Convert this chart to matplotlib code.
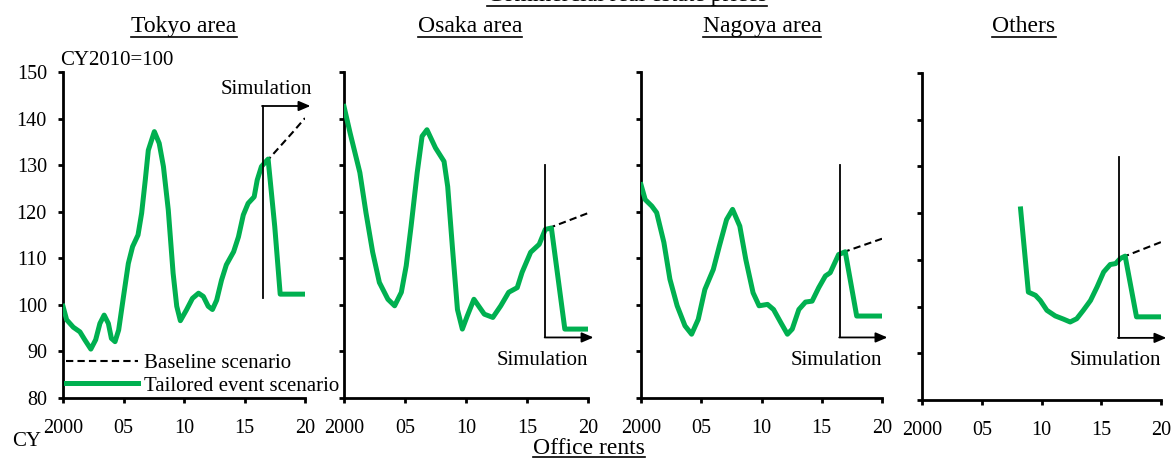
import matplotlib.pyplot as plt
from matplotlib.lines import Line2D
from matplotlib.transforms import IdentityTransform

plt.rcParams['font.family'] = ['Liberation Serif', 'DejaVu Serif']

GREEN = '#00B050'
W, H = 1173, 458

# --- data (CY2010=100) ---
tokyo_x = [2000.0, 2000.3, 2000.85, 2001.4, 2001.8, 2002.3, 2002.7, 2003.05, 2003.4, 2003.75,
           2004.0, 2004.3, 2004.6, 2005.0, 2005.4, 2005.75, 2006.2, 2006.5, 2006.8, 2007.05,
           2007.55, 2007.95, 2008.3, 2008.7, 2009.1, 2009.4, 2009.7, 2010.2, 2010.7, 2011.2,
           2011.6, 2012.0, 2012.35, 2012.7, 2013.1, 2013.5, 2014.1, 2014.5, 2014.9, 2015.3,
           2015.8, 2016.05, 2016.4, 2016.95, 2017.5, 2017.95, 2020.0]
tokyo_y = [99.7, 96.8, 95.2, 94.2, 92.5, 90.5, 92.5, 96.0, 97.8, 96.0,
           92.8, 92.1, 94.6, 101.8, 108.9, 112.5, 115.0, 119.7, 126.8, 133.2,
           137.2, 134.7, 129.7, 120.4, 106.8, 99.7, 96.6, 98.9, 101.4, 102.5,
           101.8, 99.7, 99.0, 101.0, 105.3, 108.6, 111.4, 114.6, 119.3, 121.8,
           123.2, 126.8, 129.7, 131.3, 116.8, 102.3, 102.3]
tokyo_base_x = [2016.75, 2017.0, 2018.0, 2019.0, 2020.0]
tokyo_base_y = [130.6, 131.3, 134.2, 137.1, 140.1]

osaka_x = [2000.0, 2000.5, 2001.3, 2001.8, 2002.35, 2002.9, 2003.6, 2004.15, 2004.7, 2005.1,
           2005.5, 2006.0, 2006.4, 2006.8, 2007.5, 2008.2, 2008.5, 2008.9, 2009.3, 2009.7,
           2010.1, 2010.65, 2011.5, 2012.2, 2012.85, 2013.5, 2014.2, 2014.6, 2015.3, 2016.0,
           2016.5, 2017.0, 2018.1, 2020.0]
osaka_y = [142.6, 136.9, 128.4, 119.8, 111.3, 104.8, 101.2, 99.8, 102.7, 108.4,
           116.9, 128.4, 136.2, 137.6, 133.7, 130.8, 125.4, 111.9, 99.0, 94.8,
           97.6, 101.2, 98.0, 97.3, 99.8, 102.7, 103.7, 107.0, 111.3, 113.0,
           116.2, 116.5, 94.8, 94.8]
osaka_base_x = [2016.75, 2017.0, 2018.0, 2019.0, 2020.0]
osaka_base_y = [116.4, 116.7, 117.7, 118.7, 119.7]

nagoya_x = [2000.0, 2000.35, 2000.9, 2001.3, 2001.9, 2002.4, 2003.0, 2003.65, 2004.2, 2004.75,
            2005.3, 2006.0, 2006.5, 2007.1, 2007.6, 2008.2, 2008.7, 2009.3, 2009.8, 2010.5,
            2011.0, 2011.6, 2012.15, 2012.55, 2013.1, 2013.65, 2014.2, 2014.75, 2015.3, 2015.7,
            2016.4, 2016.95, 2017.9, 2020.0]
nagoya_y = [125.8, 122.6, 121.2, 119.8, 113.4, 105.5, 99.8, 95.5, 93.7, 96.9,
            103.3, 107.6, 112.6, 118.3, 120.5, 116.9, 109.7, 102.6, 99.8, 100.1,
            99.0, 96.2, 93.7, 94.8, 99.0, 100.6, 100.8, 103.7, 106.2, 106.9,
            110.8, 111.4, 97.6, 97.6]
nagoya_base_x = [2016.75, 2017.0, 2018.0, 2019.0, 2020.0]
nagoya_base_y = [111.2, 111.5, 112.4, 113.3, 114.2]

others_x = [2008.25, 2008.9, 2009.5, 2009.9, 2010.45, 2011.15, 2011.85, 2012.4, 2012.95, 2013.5,
            2014.1, 2014.65, 2015.2, 2015.75, 2016.2, 2016.6, 2017.0, 2017.95, 2020.0]
others_y = [120.9, 103.1, 102.4, 101.3, 99.2, 98.0, 97.3, 96.7, 97.4, 99.2,
            101.3, 104.2, 107.4, 109.0, 109.2, 110.3, 110.8, 97.8, 97.8]
others_base_x = [2016.75, 2017.0, 2018.0, 2019.0, 2020.0]
others_base_y = [110.5, 110.8, 111.8, 112.8, 113.8]

titles = ['Tokyo area', 'Osaka area', 'Nagoya area', 'Others']
title_cx = [184, 470, 762, 1024]
xticks = [2000, 2005, 2010, 2015, 2020]
xticklabels = ['2000', '05', '10', '15', '20']
yticks = [80, 90, 100, 110, 120, 130, 140, 150]

# panel boxes in pixels: left, right, top, bottom
boxes = [(63, 305, 72, 398), (344, 588, 72, 398), (641, 882, 72, 398), (922, 1161, 73, 400)]
series = [(tokyo_x, tokyo_y, tokyo_base_x, tokyo_base_y),
          (osaka_x, osaka_y, osaka_base_x, osaka_base_y),
          (nagoya_x, nagoya_y, nagoya_base_x, nagoya_base_y),
          (others_x, others_y, others_base_x, others_base_y)]
# simulation marker: x, y_low, y_high, arrow at top?
sims = [(2016.5, 101.4, 142.7, True), (2016.5, 93.0, 130.1, False),
        (2016.5, 93.0, 130.1, False), (2016.45, 93.3, 132.0, False)]

fig = plt.figure(figsize=(W / 100, H / 100), dpi=100)

axes = []
for i, (l, r, t, b) in enumerate(boxes):
    ax = fig.add_axes([l / W, 1 - b / H, (r - l) / W, (b - t) / H])
    axes.append(ax)
    sx, sy, bx, by = series[i]
    ax.plot(bx, by, color='black', lw=1.5, ls=(0, (3.5, 2)), zorder=2)
    ax.plot(sx, sy, color=GREEN, lw=3.6, solid_joinstyle='round', zorder=3)

    xs, ylo, yhi, top = sims[i]
    ax.plot([xs, xs], [ylo, yhi], color='black', lw=1.3, zorder=4)
    ya = yhi if top else ylo
    ax.annotate('', xy=(2020.45, ya), xytext=(xs - 0.05, ya),
                arrowprops=dict(arrowstyle='-|>,head_length=0.7,head_width=0.3',
                                color='black', lw=1.3, shrinkA=0, shrinkB=0),
                annotation_clip=False)
    if top:
        ax.text(2020.6, ya + 2.5, 'Simulation', ha='right', va='baseline', fontsize=15)
    else:
        ax.text(2020.0, ya - 5.9, 'Simulation', ha='right', va='baseline', fontsize=15)

    ax.set_xlim(2000, 2020)
    ax.set_ylim(80, 150)
    ax.set_xticks(xticks)
    ax.set_xticklabels(xticklabels)
    ax.set_yticks(yticks)
    for s in ['top', 'right']:
        ax.spines[s].set_visible(False)
    for s in ['left', 'bottom']:
        ax.spines[s].set_linewidth(2)
    ax.tick_params(direction='out', length=3.6, width=2, labelsize=14.5)
    ax.tick_params(axis='x', pad=11.5)
    ax.tick_params(axis='y', pad=8)
    if i > 0:
        ax.set_yticklabels([])
    ax.set_facecolor('none')

# legend in Tokyo panel
handles = [Line2D([], [], color='black', lw=1.5, ls=(0, (3.5, 2))),
           Line2D([], [], color=GREEN, lw=3.6)]
axes[0].legend(handles, ['Baseline scenario', 'Tailored event scenario'],
               loc='lower left', bbox_to_anchor=(-0.005, -0.006), frameon=False,
               fontsize=15, handlelength=3.45, handletextpad=0.3, labelspacing=0.15,
               borderaxespad=0, borderpad=0.2)

fig.text(60 / W, 1 - 65 / H, 'CY2010=100', ha='left', va='baseline', fontsize=15)
fig.text(12 / W, 1 - 446 / H, 'CY', ha='left', va='baseline', fontsize=15)

under = []
for t, cx in zip(titles, title_cx):
    under.append(fig.text(cx / W, 1 - 31.7 / H, t, ha='center', va='baseline', fontsize=17))
# top heading is cut at the upper edge, as in the reference
under.append(fig.text(627 / W, 1 - 0.7 / H, 'Commercial real estate prices',
                      ha='center', va='baseline', fontsize=17))
under.append(fig.text(589 / W, 1 - 454 / H, 'Office rents', ha='center', va='baseline', fontsize=17))

# underline the headings
fig.canvas.draw()
r = fig.canvas.get_renderer()
for txt in under:
    bb = txt.get_window_extent(r)
    x0, y0 = txt.get_transform().transform(txt.get_position())
    off = 3.2 if txt.get_text() == 'Office rents' else 5
    fig.add_artist(Line2D([bb.x0, bb.x1], [y0 - off, y0 - off], color='black', lw=1.2,
                          transform=IdentityTransform()))

fig.savefig('out.png', dpi=100)
